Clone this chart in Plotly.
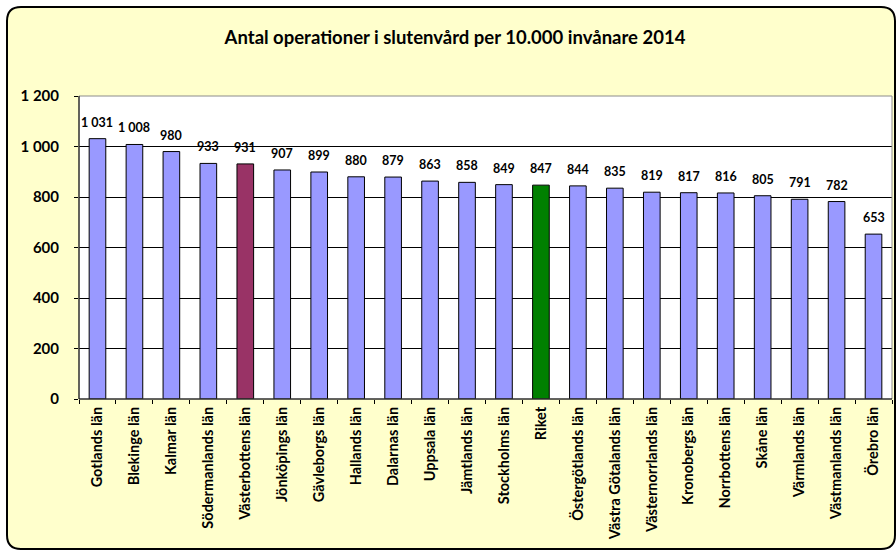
import plotly.graph_objects as go

categories = ["Gotlands län", "Blekinge län", "Kalmar län", "Södermanlands län",
              "Västerbottens län", "Jönköpings län", "Gävleborgs län", "Hallands län",
              "Dalarnas län", "Uppsala län", "Jämtlands län", "Stockholms län", "Riket",
              "Östergötlands län", "Västra Götalands län", "Västernorrlands län",
              "Kronobergs län", "Norrbottens län", "Skåne län", "Värmlands län",
              "Västmanlands län", "Örebro län"]
values = [1031, 1008, 980, 933, 931, 907, 899, 880, 879, 863, 858, 849, 847,
          844, 835, 819, 817, 816, 805, 791, 782, 653]
ytick_vals = [0, 200, 400, 600, 800, 1000, 1200]
ytick_text = ["0", "200", "400", "600", "800", "1 000", "1 200"]
title = "Antal operationer i slutenvård per 10.000 invånare 2014"

def fmt(v):
    return f"{v:,}".replace(",", " ")

colors = []
for c in categories:
    if c == "Västerbottens län":
        colors.append("#993366")
    elif c == "Riket":
        colors.append("#008000")
    else:
        colors.append("#9999FF")

W, H = 896, 552
L, R, T, B = 79, 892, 96, 399
FONT = "Lato"

def px(x):
    return (x - L) / (R - L)

def py(y):
    return (B - y) / (B - T)

# rounded frame path (paper coords)
x0, x1, y0, y1, r = 7, 895, 7, 549, 14
pts = [
    ("M", (x0 + r, y0)), ("L", (x1 - r, y0)), ("Q", (x1, y0), (x1, y0 + r)),
    ("L", (x1, y1 - r)), ("Q", (x1, y1), (x1 - r, y1)), ("L", (x0 + r, y1)),
    ("Q", (x0, y1), (x0, y1 - r)), ("L", (x0, y0 + r)), ("Q", (x0, y0), (x0 + r, y0)),
]
path = ""
for item in pts:
    cmd = item[0]
    coords = " ".join(f"{px(a):.5f},{py(b):.5f}" for a, b in item[1:])
    path += f"{cmd} {coords} "
path += "Z"

fig = go.Figure()
fig.add_trace(go.Bar(
    x=categories, y=values,
    marker=dict(color=colors, line=dict(color="#000000", width=1)),
    width=0.45,
    hoverinfo="skip",
))

for c, v in zip(categories, values):
    fig.add_annotation(x=c, y=v, text=fmt(v), showarrow=False, yanchor="bottom",
                       yshift=7, font=dict(family=FONT, size=12.5, color="#000000", weight="bold"))

fig.update_layout(
    width=W, height=H,
    margin=dict(l=L, r=W - R, t=T, b=H - B, pad=0),
    paper_bgcolor="#FFFFFF",
    plot_bgcolor="#FFFFFF",
    showlegend=False,
    title=dict(text=f"<b>{title}</b>", x=455 / W, xanchor="center", y=1 - 38 / H,
               yanchor="middle", font=dict(family=FONT, size=18.5, color="#000000")),
    shapes=[
        dict(type="path", path=path, xref="paper", yref="paper", fillcolor="#FFFFCC",
             line=dict(color="#000000", width=2), layer="below"),
        dict(type="rect", xref="paper", yref="paper", x0=0, x1=1, y0=0, y1=1,
             fillcolor="#FFFFFF", line=dict(width=0), layer="below"),
        dict(type="rect", xref="paper", yref="paper", x0=0, x1=1, y0=0, y1=1,
             fillcolor="rgba(0,0,0,0)", line=dict(color="#8C8C8C", width=1), layer="above"),
        dict(type="line", xref="paper", yref="paper", x0=0, x1=0, y0=0, y1=1,
             line=dict(color="#000000", width=1), layer="above"),
        dict(type="line", xref="paper", yref="paper", x0=0, x1=1, y0=0, y1=0,
             line=dict(color="#000000", width=1), layer="above"),
    ],
)

fig.update_yaxes(range=[0, 1200], tickvals=ytick_vals, ticktext=ytick_text,
                 showgrid=True, gridcolor="#000000", gridwidth=1,
                 ticks="outside", ticklen=4, tickcolor="#000000",
                 showline=False, zeroline=False, ticklabelstandoff=12,
                 tickfont=dict(family=FONT, size=15, color="#000000", weight="bold"))
fig.update_xaxes(type="category", tickangle=-90, ticks="outside", tickson="boundaries",
                 ticklen=4, tickcolor="#000000", showline=False, showgrid=False,
                 ticklabelstandoff=4,
                 tickfont=dict(family=FONT, size=14.5, color="#000000", weight="bold"))

fig.write_html("out.html", config={"displayModeBar": False},
               post_script="document.body.style.margin='0';document.body.style.overflow='hidden';")
